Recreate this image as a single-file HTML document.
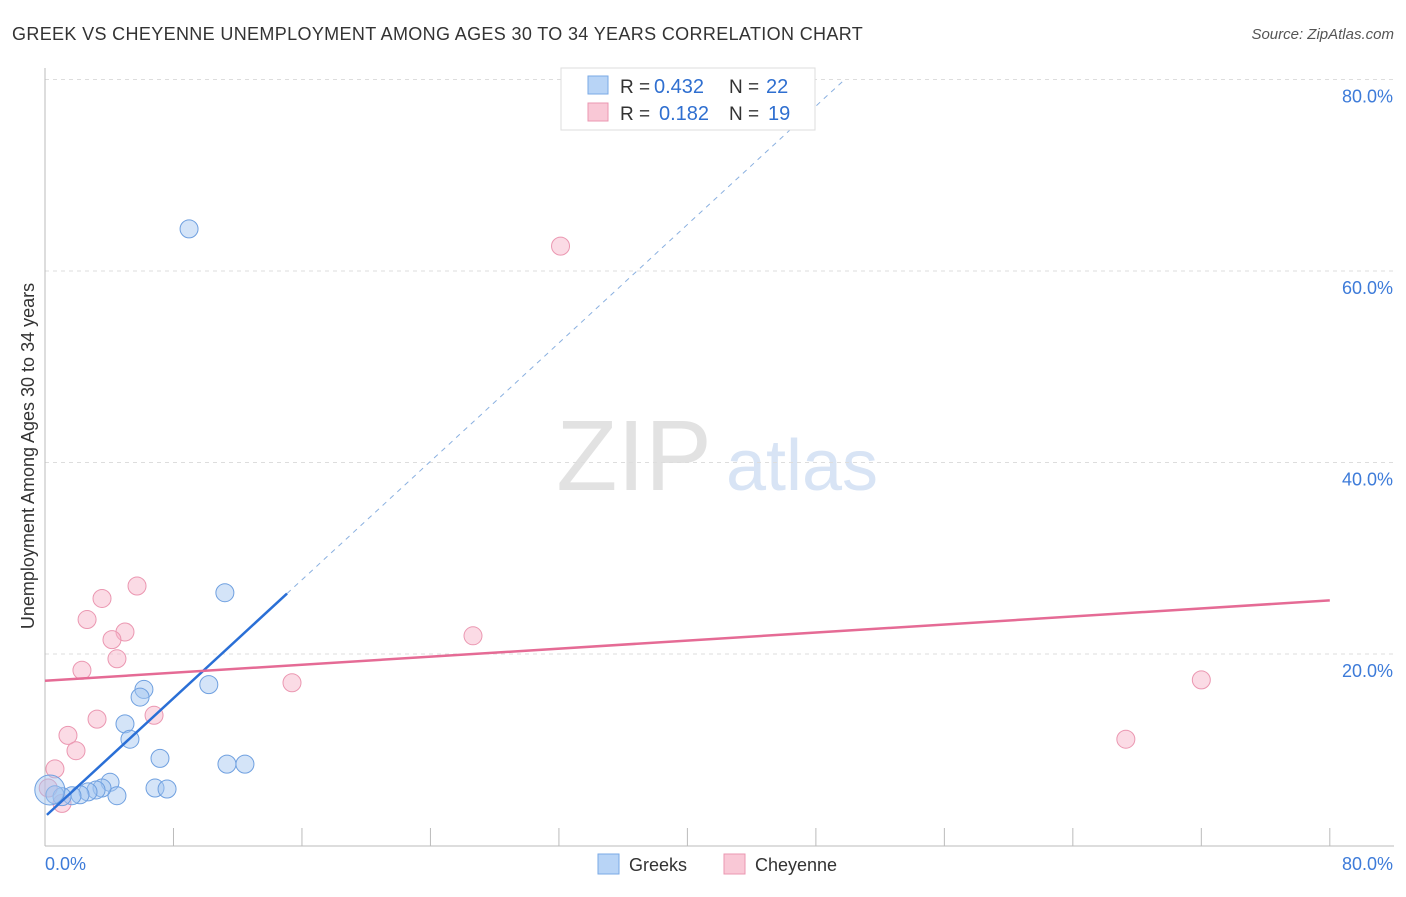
<!DOCTYPE html>
<html><head><meta charset="utf-8"><style>
body{margin:0;background:#fff;font-family:"Liberation Sans",sans-serif}
svg text{font-family:"Liberation Sans",sans-serif}
</style></head><body>
<svg width="1406" height="892">
<text x="12" y="40" font-size="18" fill="#333" letter-spacing="0.35">GREEK VS CHEYENNE UNEMPLOYMENT AMONG AGES 30 TO 34 YEARS CORRELATION CHART</text>
<text x="1394" y="39" font-size="15" fill="#555" text-anchor="end" font-style="italic">Source: ZipAtlas.com</text>
<text x="634" y="490" font-size="100" fill="#e2e2e2" font-family="Liberation Serif" text-anchor="middle">ZIP</text>
<text x="802" y="490" font-size="72" fill="#d8e4f5" text-anchor="middle">atlas</text>
<g id="grid"></g>
<g id="axes"></g>
<text transform="translate(34,456) rotate(-90)" font-size="18" fill="#333" text-anchor="middle">Unemployment Among Ages 30 to 34 years</text>
<g id="marks"></g>
<g>
<rect x="561" y="68" width="254" height="62" fill="#fff" stroke="#ddd"/>
<rect x="588" y="76" width="20" height="18" fill="#b8d4f6" stroke="#7aaae6"/>
<rect x="588" y="103" width="20" height="18" fill="#f9c8d6" stroke="#eb97b1"/>
<text x="620" y="93" font-size="19" fill="#333">R =</text>
<text x="654" y="93" font-size="20" fill="#2f6fd0">0.432</text>
<text x="729" y="93" font-size="19" fill="#333">N =</text>
<text x="766" y="93" font-size="20" fill="#2f6fd0">22</text>
<text x="620" y="120" font-size="19" fill="#333">R =</text>
<text x="659" y="120" font-size="20" fill="#2f6fd0">0.182</text>
<text x="729" y="120" font-size="19" fill="#333">N =</text>
<text x="768" y="120" font-size="20" fill="#2f6fd0">19</text>
</g>
<g>
<rect x="598" y="854" width="21" height="20" fill="#b8d4f6" stroke="#7aaae6"/>
<text x="629" y="871" font-size="18" fill="#333">Greeks</text>
<rect x="724" y="854" width="21" height="20" fill="#f9c8d6" stroke="#eb97b1"/>
<text x="755" y="871" font-size="18" fill="#333">Cheyenne</text>
</g>
</svg>
<script>
const yTicks=[20,40,60,80];
const yTickLabels=["20.0%","40.0%","60.0%","80.0%"];
const greekX=[8.97,11.2,10.2,6.16,5.92,4.98,5.29,7.16,11.33,12.45,6.85,7.6,4.05,4.48,3.55,3.18,2.68,2.18,1.68,1.06,0.62,0.3];
const greekY=[64.4,26.4,16.8,16.3,15.5,12.7,11.1,9.1,8.5,8.5,6.0,5.9,6.6,5.2,6.0,5.8,5.6,5.3,5.2,5.1,5.3,5.8];
const cheyX=[32.1,5.73,3.55,2.62,4.98,4.17,4.48,2.3,26.65,15.38,72.0,67.3,6.79,3.24,1.43,1.93,0.62,1.06,0.2];
const cheyY=[62.6,27.1,25.8,23.6,22.3,21.5,19.5,18.3,21.9,17.0,17.3,11.1,13.6,13.2,11.5,9.9,8.0,4.4,6.0];
const greekLine={x0:0.12,y0:3.2,x1:15.07,slope:1.546};
const cheyLine={y0:17.2,y1:25.6};
const X=v=>45+v*16.06, Y=v=>845.5-v*9.575;
const NS="http://www.w3.org/2000/svg";
function mk(t,a,p){const e=document.createElementNS(NS,t);for(const k in a)e.setAttribute(k,a[k]);p.appendChild(e);return e;}
const grid=document.getElementById('grid'),axes=document.getElementById('axes'),marks=document.getElementById('marks');
yTicks.forEach((t,i)=>{
 const l=mk('line',{x1:45,x2:1394,y1:Y(t),y2:Y(t),stroke:'#ddd','stroke-dasharray':'4,4'},grid);
 
 
 const tx=mk('text',{x:1393,y:Y(t)+23,'font-size':18,fill:'#3d7bd9','text-anchor':'end'},grid);
 tx.textContent=yTickLabels[i];
 
 
});
mk('line',{x1:45,x2:45,y1:68,y2:846,stroke:'#bbb'},axes);
mk('line',{x1:45,x2:1394,y1:846,y2:846,stroke:'#bbb'},axes);
for(let i=1;i<=10;i++){mk('line',{x1:X(i*8),x2:X(i*8),y1:828,y2:846,stroke:'#bbb'},axes);}
const xl0=mk('text',{x:45,y:870,'font-size':18,fill:'#3d7bd9'},axes);xl0.textContent='0.0%';


const xl1=mk('text',{x:1393,y:870,'font-size':18,fill:'#3d7bd9','text-anchor':'end'},axes);xl1.textContent='80.0%';


cheyX.forEach((x,i)=>{
 const c=mk('circle',{cx:X(x),cy:Y(cheyY[i]),r:9,fill:'rgba(246,176,198,0.45)',stroke:'#eb97b1','stroke-width':1},marks);
 
 
});
greekX.forEach((x,i)=>{
 const c=mk('circle',{cx:X(x),cy:Y(greekY[i]),r:i==greekX.length-1?15:9,fill:'rgba(160,196,240,0.45)',stroke:'#6fa0e0','stroke-width':1},marks);
 
 
});
const gy=x=>greekLine.y0+(x-greekLine.x0)*greekLine.slope;
const xEnd=greekLine.x0+(80-greekLine.y0)/greekLine.slope;
const gd=mk('line',{x1:X(greekLine.x1),y1:Y(gy(greekLine.x1)),x2:X(xEnd),y2:Y(80),stroke:'#8ab0e0','stroke-dasharray':'5,5','stroke-width':1},marks);


const gl=mk('line',{x1:X(greekLine.x0),y1:Y(greekLine.y0),x2:X(greekLine.x1),y2:Y(gy(greekLine.x1)),stroke:'#2a6fd6','stroke-width':2.5},marks);


const cl=mk('line',{x1:X(0),y1:Y(cheyLine.y0),x2:X(80),y2:Y(cheyLine.y1),stroke:'#e56b95','stroke-width':2.5},marks);


</script>
</body></html>
